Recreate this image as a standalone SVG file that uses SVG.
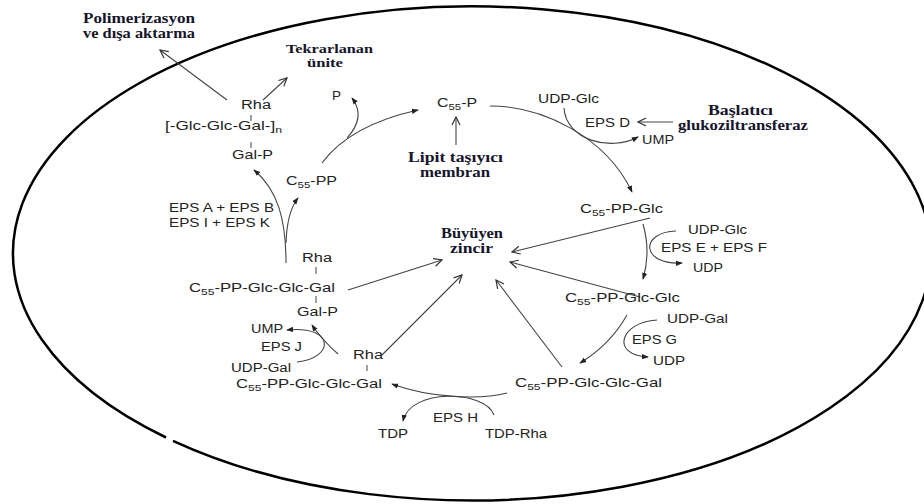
<svg xmlns="http://www.w3.org/2000/svg" width="924" height="504" viewBox="0 0 924 504">
<style>
.t{font-family:"Liberation Sans",Arial,sans-serif;font-size:12.5px;fill:#222}
.b{font-family:"Liberation Serif","Times New Roman",serif;font-size:14px;font-weight:bold;fill:#15152b}
.b2{font-size:12.5px}
.s{font-size:9px}
.c{fill:none;stroke:#444;stroke-width:1.1}
.f{marker-end:url(#fa)}
.o{marker-end:url(#oa)}
.bar{stroke:#444;stroke-width:1}
</style>
<defs>
<marker id="fa" viewBox="0 0 8 8" refX="7" refY="4" markerWidth="7" markerHeight="7" orient="auto" markerUnits="userSpaceOnUse"><path d="M0,1 L8,4 L0,7 z" fill="#222"/></marker>
<marker id="oa" viewBox="0 0 10 10" refX="9" refY="5" markerWidth="10" markerHeight="10" orient="auto" markerUnits="userSpaceOnUse"><path d="M1,1 L9,5 L1,9" fill="none" stroke="#333" stroke-width="1.2"/></marker>
</defs>
<rect width="924" height="504" fill="#fff"/>
<path id="cell" d="M166,437.5 A459,247 0 1 1 173,440.8" fill="none" stroke="#000" stroke-width="2.5"/>

<g id="connectors">
<path class="c f" d="M322,163 Q350,125 418,110"/>
<path class="c f" d="M347,138 C360,124 361,110 352,98"/>
<path class="c f" d="M490,106 C540,106 605,135 632,192"/>
<path class="c f" d="M564,108 C566,140 610,152 638,137"/>
<path class="c f" d="M643,224 Q651,252 643,279"/>
<path class="c f" d="M676,231 C640,232 640,265 682,263"/>
<path class="c f" d="M627,315 Q610,345 580,363"/>
<path class="c f" d="M657,320 C620,322 610,355 648,357"/>
<path class="c f" d="M507,393 C480,400 430,398 392,384"/>
<path class="c f" d="M494,415 C485,390 410,388 403,421"/>
<path class="c f" d="M338,354 Q322,340 312,325"/>
<path class="c f" d="M297,362 C335,358 335,325 287,330"/>
<path class="c f" d="M286,263 C286,220 278,190 254,170"/>
<path class="c f" d="M286,243 Q287,212 298,198"/>
<path class="c o" d="M227,100 L160,50"/>
<path class="c o" d="M263,100 L287,78"/>
<path class="c o" d="M456,145 L456,117"/>
<path class="c o" d="M673,122 L638,122"/>
<path class="c o" d="M650,218 L512,252"/>
<path class="c o" d="M640,297 L510,262"/>
<path class="c o" d="M562,367 L496,280"/>
<path class="c o" d="M382,355 L462,275"/>
<path class="c o" d="M348,290 L442,260"/>
</g>

<g id="polimerizasyon">
<text class="b" x="83" y="23" textLength="112" lengthAdjust="spacingAndGlyphs">Polimerizasyon</text>
<text class="b" x="83" y="38" textLength="112" lengthAdjust="spacingAndGlyphs">ve dışa aktarma</text>
</g>
<g id="tekrarlanan">
<text class="b b2" x="286" y="53" textLength="87" lengthAdjust="spacingAndGlyphs">Tekrarlanan</text>
<text class="b b2" x="307" y="67" textLength="36" lengthAdjust="spacingAndGlyphs">ünite</text>
</g>
<g id="lipit">
<text class="b" x="408" y="162" textLength="95" lengthAdjust="spacingAndGlyphs">Lipit taşıyıcı</text>
<text class="b" x="420" y="177" textLength="70" lengthAdjust="spacingAndGlyphs">membran</text>
</g>
<g id="baslatici">
<text class="b" x="708" y="115" textLength="65" lengthAdjust="spacingAndGlyphs">Başlatıcı</text>
<text class="b" x="678" y="130" textLength="130" lengthAdjust="spacingAndGlyphs">glukoziltransferaz</text>
</g>
<g id="buyuyen">
<text class="b" x="441" y="238" textLength="62" lengthAdjust="spacingAndGlyphs">Büyüyen</text>
<text class="b" x="450" y="253" textLength="43" lengthAdjust="spacingAndGlyphs">zincir</text>
</g>

<g id="polymer">
<text class="t" x="241" y="109" textLength="30" lengthAdjust="spacingAndGlyphs">Rha</text>
<line class="bar" x1="251" y1="115" x2="251" y2="121"/>
<text class="t" x="165" y="130" textLength="117" lengthAdjust="spacingAndGlyphs">[-Glc-Glc-Gal-]<tspan class="s" dy="3">n</tspan></text>
<line class="bar" x1="251" y1="142" x2="251" y2="148"/>
<text class="t" x="232" y="159" textLength="41" lengthAdjust="spacingAndGlyphs">Gal-P</text>
</g>
<g id="p"><text class="t" x="332" y="100" textLength="9" lengthAdjust="spacingAndGlyphs">P</text></g>
<g id="c55pp"><text class="t" x="286" y="185" textLength="51" lengthAdjust="spacingAndGlyphs">C<tspan class="s" dy="3">55</tspan><tspan dy="-3">-PP</tspan></text></g>
<g id="c55p"><text class="t" x="437" y="107" textLength="40" lengthAdjust="spacingAndGlyphs">C<tspan class="s" dy="3">55</tspan><tspan dy="-3">-P</tspan></text></g>
<g id="epsd">
<text class="t" x="538" y="103" textLength="61" lengthAdjust="spacingAndGlyphs">UDP-Glc</text>
<text class="t" x="585" y="127" textLength="45" lengthAdjust="spacingAndGlyphs">EPS D</text>
<text class="t" x="642" y="144" textLength="32" lengthAdjust="spacingAndGlyphs">UMP</text>
</g>
<g id="c55ppglc"><text class="t" x="580" y="213" textLength="83" lengthAdjust="spacingAndGlyphs">C<tspan class="s" dy="3">55</tspan><tspan dy="-3">-PP-Glc</tspan></text></g>
<g id="epsef">
<text class="t" x="688" y="234" textLength="59" lengthAdjust="spacingAndGlyphs">UDP-Glc</text>
<text class="t" x="661" y="252" textLength="106" lengthAdjust="spacingAndGlyphs">EPS E + EPS F</text>
<text class="t" x="693" y="272" textLength="30" lengthAdjust="spacingAndGlyphs">UDP</text>
</g>
<g id="c55ppglcglc"><text class="t" x="565" y="302" textLength="115" lengthAdjust="spacingAndGlyphs">C<tspan class="s" dy="3">55</tspan><tspan dy="-3">-PP-Glc-Glc</tspan></text></g>
<g id="epsg">
<text class="t" x="667" y="323" textLength="61" lengthAdjust="spacingAndGlyphs">UDP-Gal</text>
<text class="t" x="632" y="344" textLength="45" lengthAdjust="spacingAndGlyphs">EPS G</text>
<text class="t" x="653" y="365" textLength="32" lengthAdjust="spacingAndGlyphs">UDP</text>
</g>
<g id="c55gal-right"><text class="t" x="515" y="387" textLength="147" lengthAdjust="spacingAndGlyphs">C<tspan class="s" dy="3">55</tspan><tspan dy="-3">-PP-Glc-Glc-Gal</tspan></text></g>
<g id="epsh">
<text class="t" x="433" y="422" textLength="45" lengthAdjust="spacingAndGlyphs">EPS H</text>
<text class="t" x="378" y="438" textLength="30" lengthAdjust="spacingAndGlyphs">TDP</text>
<text class="t" x="485" y="438" textLength="62" lengthAdjust="spacingAndGlyphs">TDP-Rha</text>
</g>
<g id="c55gal-rha">
<text class="t" x="353" y="359" textLength="30" lengthAdjust="spacingAndGlyphs">Rha</text>
<line class="bar" x1="367" y1="365" x2="367" y2="371"/>
<text class="t" x="236" y="388" textLength="146" lengthAdjust="spacingAndGlyphs">C<tspan class="s" dy="3">55</tspan><tspan dy="-3">-PP-Glc-Glc-Gal</tspan></text>
</g>
<g id="epsj">
<text class="t" x="251" y="333" textLength="32" lengthAdjust="spacingAndGlyphs">UMP</text>
<text class="t" x="261" y="351" textLength="41" lengthAdjust="spacingAndGlyphs">EPS J</text>
<text class="t" x="231" y="372" textLength="60" lengthAdjust="spacingAndGlyphs">UDP-Gal</text>
</g>
<g id="c55gal-full">
<text class="t" x="302" y="262" textLength="30" lengthAdjust="spacingAndGlyphs">Rha</text>
<line class="bar" x1="316" y1="267" x2="316" y2="274"/>
<text class="t" x="189" y="292" textLength="146" lengthAdjust="spacingAndGlyphs">C<tspan class="s" dy="3">55</tspan><tspan dy="-3">-PP-Glc-Glc-Gal</tspan></text>
<line class="bar" x1="316" y1="296" x2="316" y2="303"/>
<text class="t" x="297" y="316" textLength="41" lengthAdjust="spacingAndGlyphs">Gal-P</text>
</g>
<g id="epsabik">
<text class="t" x="169" y="212" textLength="105" lengthAdjust="spacingAndGlyphs">EPS A + EPS B</text>
<text class="t" x="169" y="227" textLength="101" lengthAdjust="spacingAndGlyphs">EPS I + EPS K</text>
</g>
</svg>
